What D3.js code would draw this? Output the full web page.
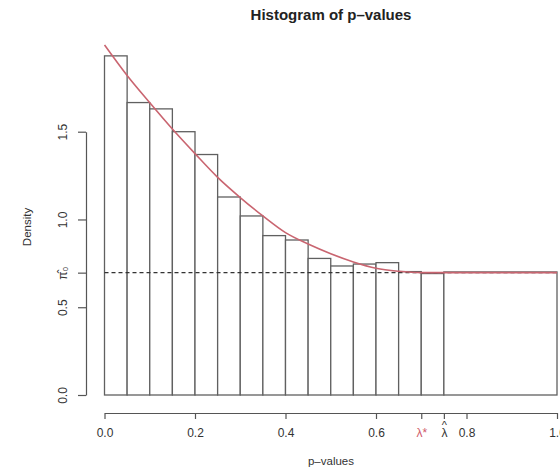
<!DOCTYPE html>
<html>
<head>
<meta charset="utf-8">
<script src="https://cdn.jsdelivr.net/npm/d3@7"></script>
<style>
  body { margin: 0; background: #fff; }
  svg { font-family: "Liberation Sans", Arial, sans-serif; }
</style>
</head>
<body>
<svg id="chart" width="560" height="468"></svg>
<script>

// histogram bins (p-value edges) and densities
var binEdges = [0, 0.05, 0.1, 0.15, 0.2, 0.25, 0.3, 0.35, 0.4, 0.45, 0.5, 0.55, 0.6, 0.65, 0.7, 0.75, 1.0];
var density = [1.932, 1.666, 1.630, 1.500, 1.370, 1.128, 1.020, 0.908, 0.883, 0.778,
               0.735, 0.746, 0.754, 0.703, 0.692, 0.701];

// smoothed pi0 estimate curve
var curveP = [0, 0.05, 0.1, 0.15, 0.2, 0.25, 0.3, 0.35, 0.4, 0.45, 0.5, 0.55, 0.6, 0.65, 0.7, 1.0];
var curveDensity = [1.994, 1.82, 1.665, 1.515, 1.375, 1.24, 1.125, 1.02, 0.925, 0.86,
                    0.805, 0.758, 0.722, 0.705, 0.697, 0.697];

var pi0 = 0.697;
var lambdaStar = 0.70;
var lambdaHat = 0.75;

var xTicks = [0, 0.2, 0.4, 0.6, 0.8, 1.0];
var xTickLabels = ["0.0", "0.2", "0.4", "0.6", "0.8", "1.0"];
var yTicks = [0, 0.5, 1.0, 1.5];
var yTickLabels = ["0.0", "0.5", "1.0", "1.5"];

var svg = d3.select("#chart");

var x = d3.scaleLinear().domain([0, 1]).range([104.5, 557]);
var y = d3.scaleLinear().domain([0, 1.5]).range([395, 131.7]);

var axisColor = "#555";
var textColor = "#333";

// bars
var bins = density.map(function (d, i) {
    return { x0: binEdges[i], x1: binEdges[i + 1], d: d };
});

svg.append("g")
    .selectAll("rect")
    .data(bins)
    .enter()
    .append("rect")
    .attr("x", function (b) { return x(b.x0); })
    .attr("width", function (b) { return x(b.x1) - x(b.x0); })
    .attr("y", function (b) { return y(b.d); })
    .attr("height", function (b) { return y(0) - y(b.d); })
    .attr("fill", "#fff")
    .attr("stroke", "#606060")
    .attr("stroke-width", 1.3);

// dashed pi0 line
svg.append("line")
    .attr("x1", x(0))
    .attr("x2", x(1))
    .attr("y1", y(pi0))
    .attr("y2", y(pi0))
    .attr("stroke", "#333")
    .attr("stroke-width", 1.3)
    .attr("stroke-dasharray", "4,3");

// red curve
var line = d3.line()
    .x(function (d) { return x(d[0]); })
    .y(function (d) { return y(d[1]); })
    .curve(d3.curveMonotoneX);

svg.append("path")
    .attr("d", line(curveP.map(function (p, i) { return [p, curveDensity[i]]; })))
    .attr("fill", "none")
    .attr("stroke", "#c96570")
    .attr("stroke-width", 1.6);

// x axis
var xAll = xTicks.concat([lambdaStar, lambdaHat]).sort(d3.ascending);

var xAxis = d3.axisBottom(x)
    .tickValues(xAll)
    .tickSize(6)
    .tickSizeOuter(0)
    .tickFormat(function (v) {
        var k = xTicks.indexOf(v);
        if (k >= 0) return xTickLabels[k];
        if (v === lambdaStar) return "\u03BB*";
        return "\u03BB";
    });

var gx = svg.append("g")
    .attr("transform", "translate(0,413)")
    .call(xAxis);

gx.select(".domain").attr("stroke", axisColor).attr("stroke-width", 1.2);
gx.selectAll(".tick line").attr("stroke", axisColor).attr("stroke-width", 1.2);
gx.selectAll(".tick text")
    .attr("y", 24)
    .attr("dy", 0)
    .attr("font-size", 12)
    .attr("fill", function (v) { return v === lambdaStar ? "#d05a6a" : textColor; });

// hat over lambda-hat
gx.selectAll(".tick")
    .filter(function (v) { return v === lambdaHat; })
    .append("text")
    .attr("y", 16)
    .attr("text-anchor", "middle")
    .attr("font-size", 11)
    .attr("fill", textColor)
    .text("^");

// y axis
var yAll = yTicks.concat([pi0]).sort(d3.ascending);

var yAxis = d3.axisLeft(y)
    .tickValues(yAll)
    .tickSize(8)
    .tickSizeOuter(0)
    .tickFormat(function (v) {
        var k = yTicks.indexOf(v);
        if (k >= 0) return yTickLabels[k];
        return "\u03C0\u0302\u2080";
    });

var gy = svg.append("g")
    .attr("transform", "translate(86,0)")
    .call(yAxis);

gy.select(".domain").attr("stroke", axisColor).attr("stroke-width", 1.2);
gy.selectAll(".tick line").attr("stroke", axisColor).attr("stroke-width", 1.2);
gy.selectAll(".tick text")
    .attr("transform", "rotate(-90)")
    .attr("x", 0)
    .attr("y", -19)
    .attr("dy", 0)
    .attr("text-anchor", "middle")
    .attr("font-size", 12)
    .attr("fill", textColor);

// titles
svg.append("text")
    .attr("x", 331)
    .attr("y", 20)
    .attr("text-anchor", "middle")
    .attr("font-size", 15)
    .attr("font-weight", "bold")
    .attr("fill", "#222")
    .text("Histogram of p\u2013values");

svg.append("text")
    .attr("x", 331)
    .attr("y", 465)
    .attr("text-anchor", "middle")
    .attr("font-size", 11.5)
    .attr("fill", textColor)
    .text("p\u2013values");

svg.append("text")
    .attr("transform", "translate(31,227) rotate(-90)")
    .attr("text-anchor", "middle")
    .attr("font-size", 11.5)
    .attr("fill", textColor)
    .text("Density");

</script>
</body>
</html>
